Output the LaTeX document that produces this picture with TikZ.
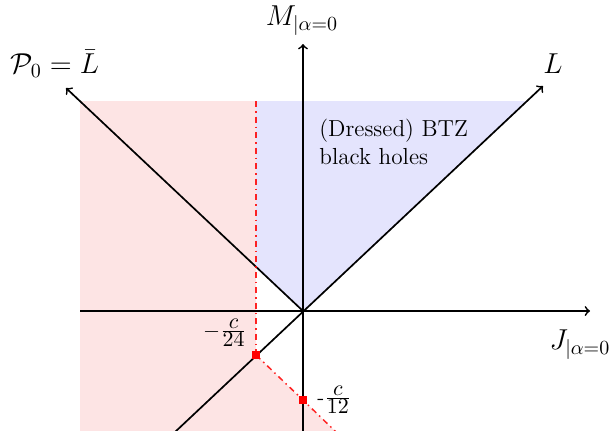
\documentclass[tikz,border=0pt]{standalone}
\usetikzlibrary{arrows.meta}
\definecolor{pinkfill}{RGB}{253,228,228}
\definecolor{bluefill}{RGB}{228,228,253}
\tikzset{
  axisline/.style={line width=0.85pt,-to},
  plainline/.style={line width=0.85pt},
  reddash/.style={red,opacity=0.85,line width=0.75pt,dash pattern=on 3pt off 2pt on 0.75pt off 2pt},
  reddot/.style={fill=red,draw=none,minimum size=4.2pt,inner sep=0pt,rectangle},
  biglabel/.style={font=\fontsize{14}{16}\selectfont,inner sep=0pt},
  fraclabel/.style={font=\fontsize{10.5}{12}\selectfont,inner sep=0pt},
}
\begin{document}
\begin{tikzpicture}[x=0.5pt,y=-0.5pt]
\useasboundingbox (0,0) rectangle (613,430);
\coordinate (O) at (303,311);
\coordinate (Jl) at (80,311);
\coordinate (Jr) at (590,311);
\coordinate (Mb) at (303,432);
\coordinate (Mt) at (303,44);
\coordinate (Lb) at (175,432);
\coordinate (Lt) at (543,86);
\coordinate (Pt) at (66,88);
\coordinate (Vt) at (256,101);
\coordinate (Vm) at (256,266.8);
\coordinate (Bt) at (527,101);
\coordinate (Pe) at (336,432);
% fills
\fill[pinkfill] (80,101) rectangle (256,432);
\fill[pinkfill] (256,355) -- (Pe) -- (256,432) -- cycle;
\fill[bluefill] (Vt) -- (Bt) -- (O) -- (Vm) -- cycle;
% axes
\draw[axisline] (Jl) -- (Jr);
\draw[axisline] (Mb) -- (Mt);
\draw[axisline] (Lb) -- (Lt);
\draw[axisline] (O) -- (Pt);
% nodes
\node[reddot] (D1) at (256,355) {};
\node[reddot] (D2) at (303,400) {};
\draw[reddash] (Vt) -- (D1.center);
\draw[reddash] (D1.center) -- (D2.center) -- (Pe);
\node[reddot] at (D1) {};
\node[reddot] at (D2) {};
% labels
\node[biglabel] (Mlab) at (302,21) {$M_{|\alpha=0}$};
\node[biglabel] (Jlab) at (580,345) {$J_{|\alpha=0}$};
\node[biglabel] (Plab) at (55,64) {$\mathcal{P}_0=\bar{L}$};
\node[biglabel] (Llab) at (553,64) {$L$};
\node[fraclabel] (c24) at (225,333) {$-\frac{\textstyle c}{\textstyle 24}$};
\node[fraclabel,anchor=west] (c12) at (317,400) {-$\frac{\textstyle c}{\textstyle 12}$};
\node[font=\fontsize{11.6}{14}\selectfont,inner sep=0pt,align=left,anchor=north west] (txt) at (319,119) {(Dressed) BTZ\\black holes};
\end{tikzpicture}
\end{document}
